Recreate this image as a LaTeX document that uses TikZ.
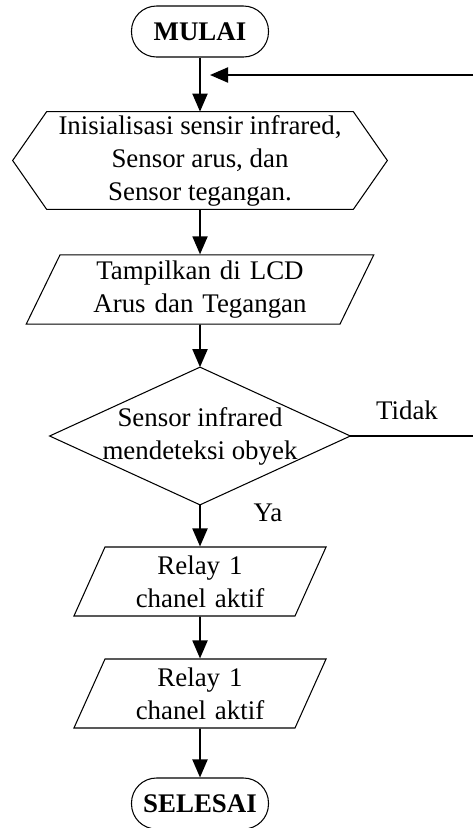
\documentclass[tikz,border=0pt]{standalone}
\usepackage{fontspec}
\setmainfont{Liberation Serif}
\usetikzlibrary{arrows.meta,shapes.geometric}

\tikzset{
    flow/.style={-{Triangle[length=0.36cm,width=0.3cm]}, line width=1.1pt},
    terminal/.style={draw, line width=0.6pt, rounded corners=0.5cm, minimum width=2.74cm, minimum height=1.02cm, font=\fontsize{15.3}{18.8}\selectfont\bfseries},
    io/.style={draw, line width=0.6pt, trapezium, trapezium left angle=64, trapezium right angle=116, trapezium stretches body, minimum height=1.38cm, inner xsep=0pt, align=center},
    bare/.style={inner sep=0pt, align=center},
}

\begin{document}
\begin{tikzpicture}[font=\fontsize{15.3}{18.8}\selectfont]
        % Fix the frame
        \useasboundingbox (0, 0) rectangle (9.46, -16.56);

        % Start and end
        \node[terminal] (mulai) at (4, -0.63) {MULAI};
        \node[terminal] (selesai) at (4, -16.07) {SELESAI};

        % Preparation box (hexagon)
        \node[bare, minimum width=7.48cm, minimum height=1.94cm] (init) at (4, -3.21)
            {Inisialisasi sensir infrared,\\ Sensor arus, dan\\ Sensor tegangan.};
        \draw[line width=0.6pt] (init.west) -- ([xshift=0.68cm]init.north west) -- ([xshift=-0.68cm]init.north east)
            -- (init.east) -- ([xshift=-0.68cm]init.south east) -- ([xshift=0.68cm]init.south west) -- cycle;

        % Input / output boxes
        \node[io, text width=5.6cm] (lcd) at (4, -5.79) {Tampilkan di LCD\\ Arus dan Tegangan};
        \node[io, text width=3.8cm] (relay1) at (4, -11.63) {Relay 1\\ chanel aktif};
        \node[io, text width=3.8cm] (relay2) at (4, -13.87) {Relay 1\\ chanel aktif};

        % Decision (diamond)
        \node[bare, minimum width=6cm, minimum height=2.74cm] (cek) at (4, -8.72)
            {Sensor infrared\\ mendeteksi obyek};
        \draw[line width=0.6pt] (cek.north) -- (cek.east) -- (cek.south) -- (cek.west) -- cycle;

        % Loop back points
        \coordinate (tidakR) at (9.46, -8.72);
        \coordinate (balikR) at (9.46, -1.5);
        \coordinate (balik) at (4.2, -1.5);

        % Arrows down the main line
        \draw[flow] (mulai) -- (init);
        \draw[flow] (init) -- (lcd);
        \draw[flow] (lcd) -- (cek.north);
        \draw[flow] (cek.south) -- (relay1);
        \draw[flow] (relay1) -- (relay2);
        \draw[flow] (relay2) -- (selesai);

        % The "Tidak" branch
        \draw[line width=1.1pt] (cek.east) -- (tidakR);
        \draw[flow] (balikR) -- (balik);

        % Branch labels
        \node (tidak) at (8.14, -8.2) {Tidak};
        \node (ya) at (5.36, -10.26) {Ya};
    \end{tikzpicture}
\end{document}
